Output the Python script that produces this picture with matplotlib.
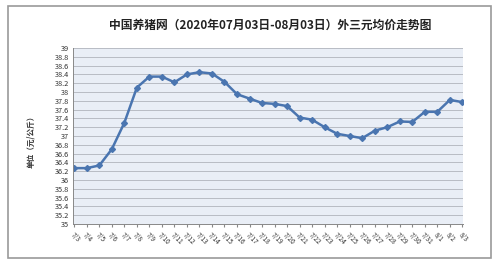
import matplotlib
matplotlib.use("Agg")
import matplotlib.pyplot as plt
from matplotlib.patches import Rectangle

plt.rcParams['font.family'] = ['Noto Sans CJK SC', 'DejaVu Sans']

dates = ["7/3", "7/4", "7/5", "7/6", "7/7", "7/8", "7/9", "7/10", "7/11", "7/12",
         "7/13", "7/14", "7/15", "7/16", "7/17", "7/18", "7/19", "7/20", "7/21",
         "7/22", "7/23", "7/24", "7/25", "7/26", "7/27", "7/28", "7/29", "7/30",
         "7/31", "8/1", "8/2", "8/3"]
prices = [36.27, 36.27, 36.33, 36.70, 37.30, 38.10, 38.35, 38.35, 38.22, 38.40,
          38.45, 38.42, 38.23, 37.95, 37.85, 37.75, 37.73, 37.68, 37.42, 37.37,
          37.20, 37.05, 37.00, 36.95, 37.12, 37.20, 37.33, 37.32, 37.55, 37.55,
          37.82, 37.77]
y_ticks = [35 + 0.2 * i for i in range(21)]

fig = plt.figure(figsize=(4.99, 2.66), dpi=100)
fig.patches.append(Rectangle((8 / 499, 8 / 266), 483 / 499, 252 / 266,
                             transform=fig.transFigure, fill=False,
                             edgecolor="#9a9a9a", linewidth=1.2))

ax = fig.add_axes([73 / 499, 42 / 266, 390 / 499, 176 / 266])
ax.set_facecolor("#e9eef6")
x = list(range(len(dates)))
ax.plot(x, prices, color="#4a75b0", linewidth=1.8, marker="D", markersize=3,
        markerfacecolor="#4a75b0", markeredgecolor="#4a75b0")

ax.set_xlim(0 - 0.1, len(dates) - 1 + 0.05)
ax.set_ylim(35, 39)
ax.set_yticks(y_ticks)
ax.set_yticklabels([f"{v:g}" for v in y_ticks], fontsize=5.3, color="#333333")
ax.set_xticks(x)
ax.set_xticklabels(dates, fontsize=4.8, color="#333333", rotation=-45,
                   ha="left", va="top", rotation_mode="anchor")
ax.tick_params(axis="y", length=0, pad=3)
ax.tick_params(axis="x", length=2, color="#888888", pad=3)
ax.grid(axis="y", color="#b8bcc4", linewidth=0.7)
ax.set_axisbelow(True)
for side in ["top", "right"]:
    ax.spines[side].set_visible(False)
ax.spines["left"].set_color("#888888")
ax.spines["bottom"].set_color("#888888")
ax.spines["left"].set_linewidth(0.7)
ax.spines["bottom"].set_linewidth(0.7)

fig.text(270 / 499, 1 - 25 / 266, "中国养猪网（2020年07月03日-08月03日）外三元均价走势图",
         ha="center", va="center", fontsize=8.5, fontweight="bold", color="#222222")
fig.text(31 / 499, 1 - 140 / 266, "单位（元/公斤）", rotation=90,
         ha="center", va="center", fontsize=5.5, fontweight="bold", color="#333333")

fig.savefig("out.png", dpi=100)
